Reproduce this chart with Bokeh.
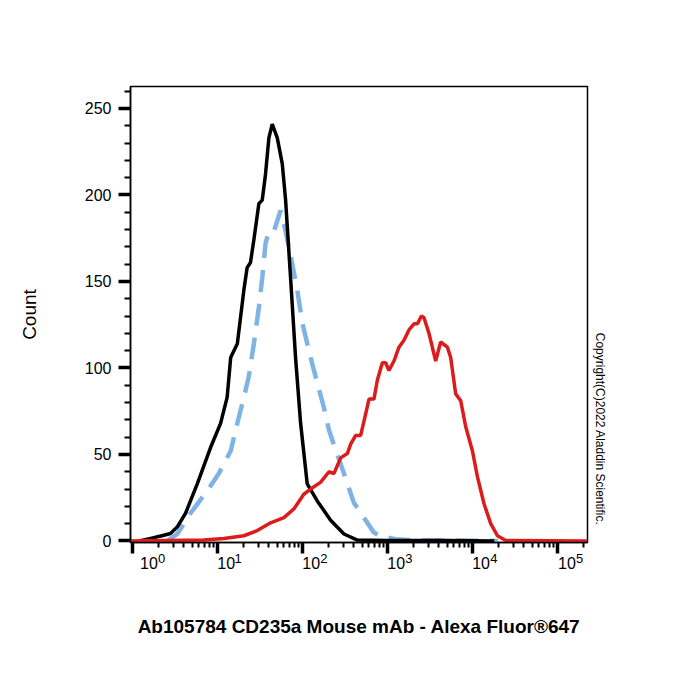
from bokeh.plotting import figure
from bokeh.models import LogAxis, FixedTicker, CustomJSTickFormatter, Title, Range1d
from bokeh.embed import file_html
from bokeh.resources import INLINE

# ---- data ----
black_x = [1.2, 1.62, 2.2, 2.78, 3.33, 4.18, 5.74, 8.23, 10.8, 12.9,
           14.2, 17.0, 20.3, 22.2, 24.3, 26.6, 30.5, 33.4, 36.5, 40.0,
           43.8, 50.2, 57.5, 62.9, 72.0, 82.4, 94.5, 113, 149, 213,
           306, 440, 1000, 5000, 18000]
black_y = [0, 1.5, 3, 4.3, 8, 16, 33, 54, 68, 83,
           106, 114, 145, 158, 161, 174, 195, 197, 212, 233,
           241, 233, 218, 197, 152, 106, 68, 33, 23, 12,
           4, 0.5, 0.3, 0.3, 0]

blue_x = [2.6, 3.33, 4.78, 7.52, 10.3, 14.2, 17.0, 20.3, 23.2, 26.6,
          30.5, 33.4, 36.5, 40.0, 45.8, 54.9, 62.9, 75.4, 86.3, 98.9,
          124, 149, 178, 204, 255, 306, 401, 551, 684, 897,
          991, 1242, 1722, 5000, 20000]
blue_y = [0.5, 4, 16, 29, 39, 52, 68, 83, 95, 114,
          135, 152, 172, 179, 179, 191, 179, 160, 145, 126,
          106, 91, 77, 64, 50, 39, 22, 12, 5, 1.5,
          2, 1, 0.5, 0.3, 0]

red_x = [0.94, 6.8, 11.8, 20.3, 29.2, 41.9, 60.1, 78.7, 103, 124,
         163, 204, 233, 280, 335, 367, 420, 481, 551, 603,
         690, 757, 866, 947, 1035, 1186, 1359, 1556, 1782, 2042,
         2239, 2495, 2677, 3064, 3673, 4207, 5047, 5520, 6323, 7244,
         8294, 9950, 11400, 13620, 16340, 19590, 24540, 225000]
red_y = [0, 0.5, 1.4, 3, 6, 10.5, 13.5, 18.5, 27, 30,
         34, 40, 39, 48, 50.5, 56, 61, 61, 73.5, 82,
         82, 93, 103, 103, 98.5, 104, 112, 116, 122, 125.5,
         125.5, 130, 129, 120, 104, 115, 112, 106, 85, 81,
         66, 52, 37, 21.5, 10, 3, 0.3, 0]

decade_exp = [0, 1, 2, 3, 4, 5]
exp_labels = ["0", "1", "2", "3", "4", "5"]
base_label = "10"
y_ticks = [0, 50, 100, 150, 200, 250]
x_label = "Ab105784 CD235a Mouse mAb - Alexa Fluor®647"
y_label = "Count"
copyright_text = "Copyright(C)2022 Aladdin Scientific."

# label placement shifts (in decades, style only)
ten_shift = [0.19, 0.10, 0.10, 0.10, 0.10, 0.11]
sup_shift = [0.34, 0.24, 0.25, 0.25, 0.25, 0.26]

FONT = "Liberation Sans"

decades = [10.0 ** k for k in decade_exp]
x_minors = [m * 10.0 ** k for k in decade_exp for m in range(2, 10)]
ten_pos = [10.0 ** (k + s) for k, s in zip(decade_exp, ten_shift)]
sup_pos = [10.0 ** (k + s) for k, s in zip(decade_exp, sup_shift)]
y_minors = [v for v in range(0, 261, 10) if v not in y_ticks]

p = figure(width=700, height=700, x_axis_type="log", x_axis_location=None,
           x_range=Range1d(0.94, 2.25e5), y_range=Range1d(-0.9, 262.7),
           output_backend="svg", toolbar_location=None,
           min_border_left=130, min_border_right=113,
           min_border_top=86, min_border_bottom=158)
p.grid.visible = False
p.outline_line_color = "black"
p.outline_line_width = 1.5
p.background_fill_color = "white"
p.border_fill_color = "white"

# y axis
ya = p.yaxis[0]
ya.ticker = FixedTicker(ticks=y_ticks, minor_ticks=y_minors)
ya.major_tick_out = 12
ya.major_tick_in = 0
ya.minor_tick_out = 6
ya.minor_tick_in = 0
ya.major_tick_line_width = 3.5
ya.minor_tick_line_width = 2
ya.axis_line_width = 1.5
ya.major_label_standoff = 7
ya.major_label_text_font = FONT
ya.major_label_text_font_size = "16px"
ya.major_label_text_color = "black"
ya.axis_label = y_label
ya.axis_label_text_font = FONT
ya.axis_label_text_font_size = "19px"
ya.axis_label_text_font_style = "normal"
ya.axis_label_text_color = "black"
ya.axis_label_standoff = 42

# x axis: ticks only (empty labels)
tick_axis = LogAxis(ticker=FixedTicker(ticks=decades, minor_ticks=x_minors),
                    formatter=CustomJSTickFormatter(code="return ''"),
                    major_tick_out=11, major_tick_in=0,
                    minor_tick_out=5, minor_tick_in=0,
                    major_tick_line_width=3.5, minor_tick_line_width=2,
                    axis_line_width=1.5,
                    major_label_text_font_size="2px", major_label_standoff=0)
# exponent labels
sup_axis = LogAxis(ticker=FixedTicker(ticks=sup_pos, minor_ticks=[]),
                   formatter=CustomJSTickFormatter(args=dict(labels=exp_labels),
                                                   code="return labels[index]"),
                   axis_line_color=None, major_tick_line_color=None,
                   minor_tick_line_color=None, major_tick_out=0, minor_tick_out=0,
                   major_label_standoff=0, major_label_text_font=FONT,
                   major_label_text_font_size="13px", major_label_text_color="black")
# base "10" labels
ten_axis = LogAxis(ticker=FixedTicker(ticks=ten_pos, minor_ticks=[]),
                   formatter=CustomJSTickFormatter(args=dict(lab=base_label),
                                                   code="return lab"),
                   axis_line_color=None, major_tick_line_color=None,
                   minor_tick_line_color=None, major_tick_out=0, minor_tick_out=0,
                   major_label_standoff=-9, major_label_text_font=FONT,
                   major_label_text_font_size="16px", major_label_text_color="black",
                   axis_label=x_label, axis_label_text_font=FONT,
                   axis_label_text_font_size="19px", axis_label_text_font_style="bold",
                   axis_label_text_color="black",
                   axis_label_standoff=44)
p.add_layout(tick_axis, "below")
p.add_layout(sup_axis, "below")
p.add_layout(ten_axis, "below")

# curves
p.line(blue_x, blue_y, line_color="#7fb3e4", line_width=4.5, line_dash="22 12")
p.line(black_x, black_y, line_color="black", line_width=3.5)
p.line(red_x, red_y, line_color="#dc1c1c", line_width=3.5)

cp = Title(text=copyright_text, align="right", offset=17, text_font=FONT,
           text_font_size="12px", text_font_style="normal", text_color="black",
           standoff=10)
p.add_layout(cp, "right")

open("out.html", "w").write(file_html(p, INLINE))
